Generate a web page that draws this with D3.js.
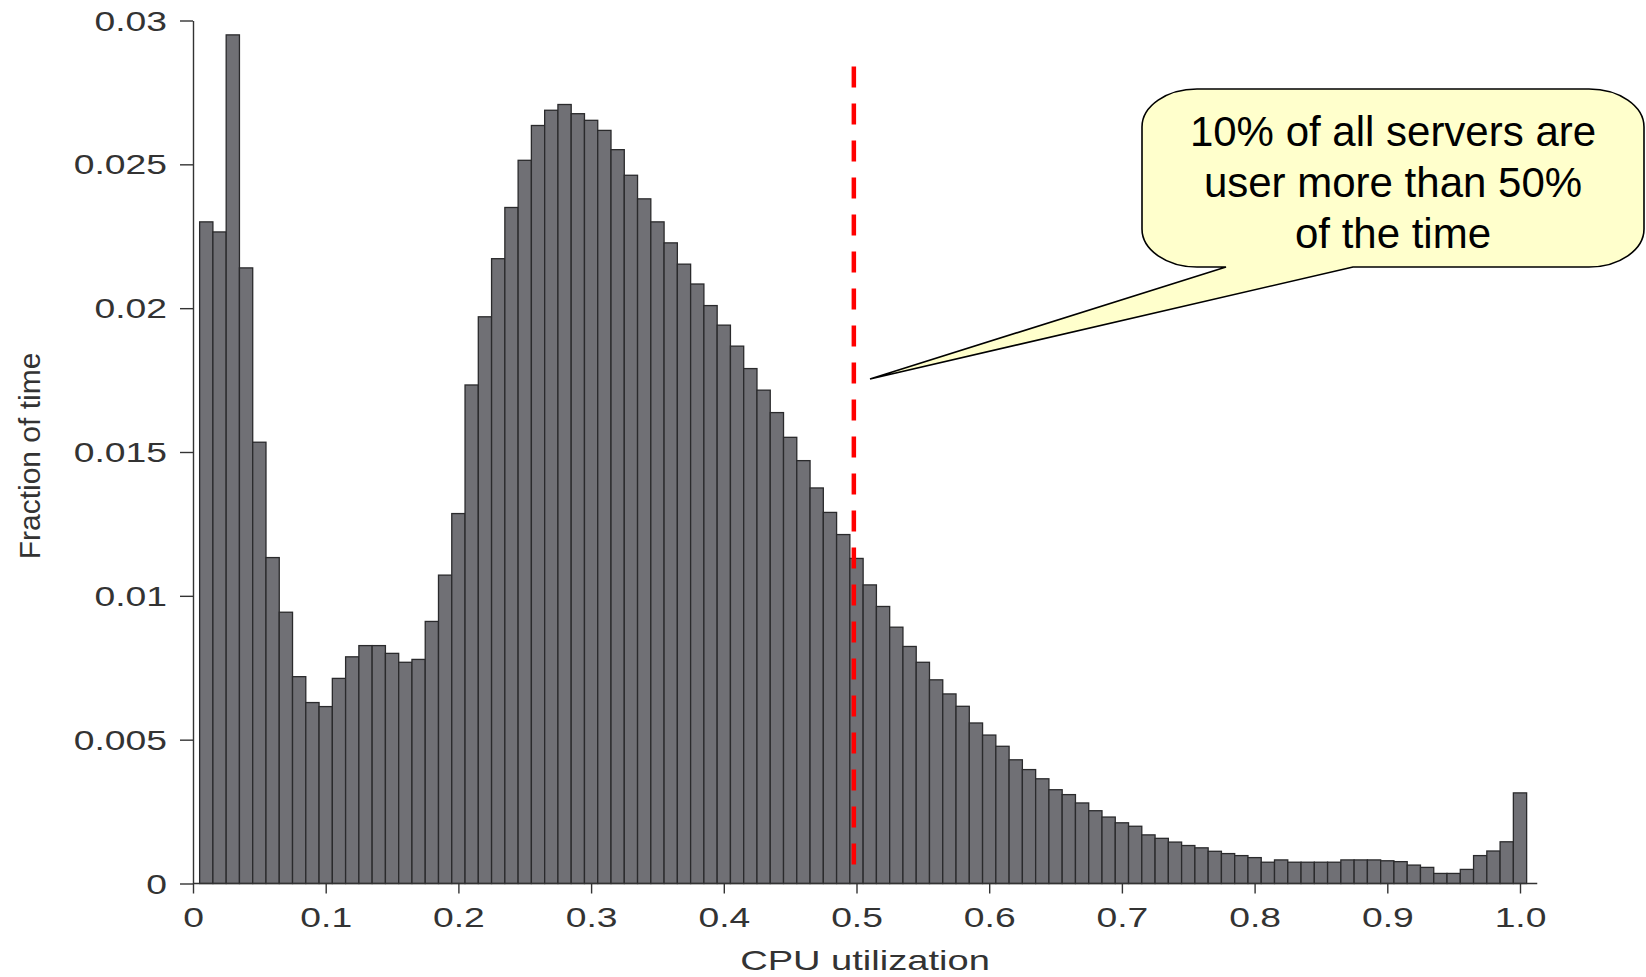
<!DOCTYPE html>
<html>
<head>
<meta charset="utf-8">
<script src="https://cdn.jsdelivr.net/npm/d3@7/dist/d3.min.js"></script>
<style>
  html, body { margin: 0; padding: 0; background: #ffffff; }
  svg { display: block; }
  text { font-family: "Liberation Sans", Arial, Helvetica, sans-serif; }
</style>
</head>
<body>
<svg id="chart" width="1646" height="977"></svg>
<script>
// ---- data (fraction of time per CPU-utilization bin, bin centers 0.01 .. 1.00) ----
const binCenters = d3.range(1, 101).map(i => i / 100);
const fractionOfTime = [
  0.0230, 0.02265, 0.0295, 0.0214, 0.01534, 0.01133, 0.00943, 0.00719, 0.00629, 0.00615,
  0.00713, 0.00788, 0.00827, 0.00827, 0.0080, 0.00769, 0.00779, 0.00911, 0.01072, 0.01286,
  0.01733, 0.0197, 0.02172, 0.0235, 0.02514, 0.02635, 0.02688, 0.02708, 0.02676, 0.02653,
  0.02618, 0.02551, 0.02462, 0.0238, 0.0230, 0.02227, 0.02153, 0.02084, 0.02009, 0.01941,
  0.01868, 0.0179, 0.01715, 0.01637, 0.01551, 0.0147, 0.01375, 0.0129, 0.01213, 0.0113,
  0.01038, 0.00963, 0.00891, 0.00824, 0.00769, 0.00708, 0.00659, 0.00616, 0.00558, 0.00516,
  0.00477, 0.0043, 0.00396, 0.00364, 0.00326, 0.00309, 0.0028, 0.00253, 0.00231, 0.00211,
  0.00199, 0.00169, 0.00157, 0.00144, 0.00132, 0.00124, 0.00112, 0.00104, 0.00097, 0.0009,
  0.00074, 0.00082, 0.00074, 0.00074, 0.00074, 0.00074, 0.00082, 0.00082, 0.00082, 0.00079,
  0.00076, 0.00064, 0.00056, 0.00035, 0.00035, 0.00049, 0.00097, 0.00113, 0.00145, 0.00315
];
const binWidth = 0.01;
const xTickValues = [0, 0.1, 0.2, 0.3, 0.4, 0.5, 0.6, 0.7, 0.8, 0.9, 1.0];
const xTickLabels = ["0", "0.1", "0.2", "0.3", "0.4", "0.5", "0.6", "0.7", "0.8", "0.9", "1.0"];
const yTickValues = [0, 0.005, 0.01, 0.015, 0.02, 0.025, 0.03];
const yTickLabels = ["0", "0.005", "0.01", "0.015", "0.02", "0.025", "0.03"];
const xTitle = "CPU utilization";
const yTitle = "Fraction of time";
const thresholdX = 0.498;          // 50% utilization marker
const thresholdSpan = [0.0004, 0.0284];
const calloutLines = ["10% of all servers are", "user more than 50%", "of the time"];

// ---- scales ----
const svg = d3.select("#chart");
const x = d3.scaleLinear().domain([0, 1]).range([193, 1520]);
const y = d3.scaleLinear().domain([0, 0.03]).range([883.5, 20.5]);
const stretch = 1.38;

// ---- bars ----
svg.append("g").selectAll("rect")
  .data(binCenters.map((c, i) => ({ c, v: fractionOfTime[i] })))
  .join("rect")
  .attr("x", d => x(d.c - binWidth / 2))
  .attr("width", d => x(d.c + binWidth / 2) - x(d.c - binWidth / 2))
  .attr("y", d => y(d.v))
  .attr("height", d => y(0) - y(d.v))
  .attr("fill", "#707075")
  .attr("stroke", "#2a2a2c")
  .attr("stroke-width", 1.3);

// ---- x axis ----
const gx = svg.append("g").attr("transform", `translate(0,${y(0)})`)
  .call(d3.axisBottom(x).tickValues(xTickValues)
    .tickFormat((d, i) => xTickLabels[i]).tickSize(10).tickSizeOuter(0));
gx.select(".domain").remove();
gx.append("line").attr("x1", x(0)).attr("x2", x(1.013)).attr("y1", 0).attr("y2", 0)
  .attr("stroke", "#333").attr("stroke-width", 1.4);
gx.selectAll(".tick line").attr("stroke", "#333").attr("stroke-width", 1.4);
gx.selectAll(".tick text")
  .attr("y", null).attr("dy", null)
  .attr("transform", `translate(0,43.5) scale(${stretch},1)`)
  .attr("font-size", 27).attr("fill", "#333")
  .attr("font-family", "'Liberation Sans', Arial, sans-serif");

// ---- y axis ----
const gy = svg.append("g").attr("transform", `translate(${x(0)},0)`)
  .call(d3.axisLeft(y).tickValues(yTickValues)
    .tickFormat((d, i) => yTickLabels[i]).tickSize(13).tickSizeOuter(0));
gy.select(".domain").attr("stroke", "#333").attr("stroke-width", 1.4);
gy.selectAll(".tick line").attr("stroke", "#333").attr("stroke-width", 1.4);
gy.selectAll(".tick text")
  .attr("x", 0).attr("dy", null)
  .attr("transform", `translate(-26,9.5) scale(${stretch},1)`)
  .attr("font-size", 27).attr("fill", "#333")
  .attr("font-family", "'Liberation Sans', Arial, sans-serif");

// ---- axis titles ----
svg.append("text")
  .attr("transform", `translate(865,970) scale(1.36,1)`)
  .attr("text-anchor", "middle").attr("font-size", 28).attr("fill", "#333")
  .text(xTitle);
svg.append("text")
  .attr("transform", `translate(40,456) rotate(-90)`)
  .attr("text-anchor", "middle").attr("font-size", 30).attr("fill", "#333")
  .text(yTitle);

// ---- threshold line ----
svg.append("line")
  .attr("x1", x(thresholdX)).attr("x2", x(thresholdX))
  .attr("y1", y(thresholdSpan[1])).attr("y2", y(thresholdSpan[0]))
  .attr("stroke", "#ff0000").attr("stroke-width", 4.5)
  .attr("stroke-dasharray", "21,16");

// ---- callout ----
const bx0 = 1142, bx1 = 1644, by0 = 89, by1 = 267, rx = 55, ry = 38;
const tip = [870, 379], baseL = 1226, baseR = 1353;
const path = d3.path();
path.moveTo(bx0 + rx, by0);
path.lineTo(bx1 - rx, by0);
path.bezierCurveTo(bx1 - rx * 0.45, by0, bx1, by0 + ry * 0.45, bx1, by0 + ry);
path.lineTo(bx1, by1 - ry);
path.bezierCurveTo(bx1, by1 - ry * 0.45, bx1 - rx * 0.45, by1, bx1 - rx, by1);
path.lineTo(baseR, by1);
path.lineTo(tip[0], tip[1]);
path.lineTo(baseL, by1);
path.lineTo(bx0 + rx, by1);
path.bezierCurveTo(bx0 + rx * 0.45, by1, bx0, by1 - ry * 0.45, bx0, by1 - ry);
path.lineTo(bx0, by0 + ry);
path.bezierCurveTo(bx0, by0 + ry * 0.45, bx0 + rx * 0.45, by0, bx0 + rx, by0);
path.closePath();
svg.append("path").attr("d", path.toString())
  .attr("fill", "#ffffcc").attr("stroke", "#000").attr("stroke-width", 1.6)
  .attr("stroke-linejoin", "miter");

svg.append("g").selectAll("text").data(calloutLines).join("text")
  .attr("x", (bx0 + bx1) / 2)
  .attr("y", (d, i) => 146 + i * 51)
  .attr("text-anchor", "middle")
  .attr("font-size", 42)
  .attr("fill", "#000")
  .attr("font-family", "'Liberation Sans', Arial, sans-serif")
  .text(d => d);
</script>
</body>
</html>
